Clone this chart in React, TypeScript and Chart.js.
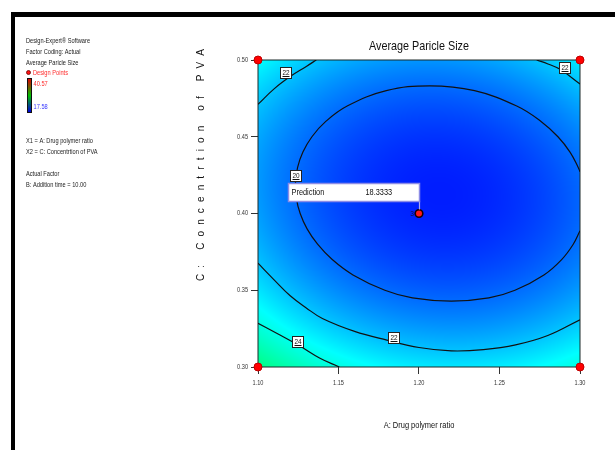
import React, { useEffect, useRef } from "react";
import { Chart, registerables } from "chart.js";

Chart.register(...registerables);

// ---------------- data ----------------
const X_TICKS = [1.1, 1.15, 1.2, 1.25, 1.3];
const Y_TICKS = [0.3, 0.35, 0.4, 0.45, 0.5];

// contour "20" (open where it meets the right edge)
const CONTOUR_20_X = [1.3, 1.2958, 1.2886, 1.2776, 1.2596, 1.2434, 1.22, 1.1959, 1.1788, 1.159, 1.1461, 1.137, 1.1305, 1.1262, 1.1238, 1.1233, 1.1246, 1.1279, 1.1335, 1.1421, 1.1554, 1.1797, 1.2068, 1.2345, 1.2607, 1.2758, 1.2863, 1.2938, 1.2989, 1.3];
const CONTOUR_20_Y = [0.3888, 0.38, 0.37, 0.36, 0.35, 0.345, 0.3429, 0.345, 0.35, 0.36, 0.37, 0.38, 0.39, 0.4, 0.41, 0.42, 0.43, 0.44, 0.45, 0.46, 0.47, 0.48, 0.4832, 0.48, 0.47, 0.46, 0.45, 0.44, 0.43, 0.4272];

// contour "22" pieces
const CONTOUR_22_TL_X = [1.1, 1.11, 1.12, 1.13, 1.1362];
const CONTOUR_22_TL_Y = [0.4711, 0.4812, 0.4892, 0.4958, 0.5];
const CONTOUR_22_TR_X = [1.2731, 1.2801, 1.2876, 1.3];
const CONTOUR_22_TR_Y = [0.5, 0.4974, 0.4939, 0.4844];
const CONTOUR_22_B_X = [1.1, 1.11, 1.12, 1.13, 1.14, 1.16, 1.18, 1.2, 1.22, 1.24, 1.26, 1.28, 1.3];
const CONTOUR_22_B_Y = [0.3676, 0.3568, 0.3464, 0.3385, 0.3316, 0.3232, 0.3175, 0.3127, 0.3105, 0.3113, 0.3144, 0.3205, 0.3308];

// contour "24"
const CONTOUR_24_X = [1.1, 1.1116, 1.125, 1.1385, 1.1505];
const CONTOUR_24_Y = [0.3285, 0.322, 0.3143, 0.3057, 0.3];

// contour labels
const LABEL_X = [1.1174, 1.2907, 1.1236, 1.1845, 1.1247];
const LABEL_Y = [0.4913, 0.495, 0.4244, 0.3191, 0.3165];
const LABEL_TEXT = ["22", "22", "20", "22", "24"];

// design points
const DESIGN_X = [1.1, 1.3, 1.1, 1.3];
const DESIGN_Y = [0.5, 0.5, 0.3, 0.3];
const CENTER_X = [1.2];
const CENTER_Y = [0.4];
const CENTER_REPS = ["3"];

const PREDICTION_LABEL = "Prediction";
const PREDICTION_VALUE = "18.3333";

// fitted quadratic model, coded units: b0, A, C, A^2, C^2, AC
const MODEL_COEFS = [18.33, -0.64, -0.985, 2.2, 3.6, 0.409];
const RESPONSE_RANGE = [17.58, 40.57];

const LEGEND_HEAD = ["Design-Expert® Software", "Factor Coding: Actual", "Average Paricle Size"];
const LEGEND_FACTORS = ["X1 = A: Drug polymer ratio", "X2 = C: Concentrtion of PVA"];
const LEGEND_ACTUAL = ["Actual Factor", "B: Addition time = 10.00"];

const TITLE = "Average Paricle Size";
const X_TITLE = "A: Drug polymer ratio";
const Y_TITLE = "C: Concentrtion of PVA";

// ---------------- styles ----------------
const REGULAR = "'Liberation Sans', Arial, sans-serif";

const STOPS: [number, number, number, number][] = [
  [0, 0, 0, 255],
  [0.25, 0, 255, 255],
  [0.5, 0, 255, 0],
  [0.75, 255, 255, 0],
  [1, 255, 0, 0],
];
function colorAt(t: number): [number, number, number] {
  t = Math.max(0, Math.min(1, t));
  for (let i = 1; i < STOPS.length; i++) {
    if (t <= STOPS[i][0]) {
      const a = STOPS[i - 1], b = STOPS[i];
      const f = (t - a[0]) / (b[0] - a[0]);
      return [a[1] + (b[1] - a[1]) * f, a[2] + (b[2] - a[2]) * f, a[3] + (b[3] - a[3]) * f];
    }
  }
  return [255, 0, 0];
}

// narrow text (Arial-metric font squeezed horizontally, like Arial Narrow)
function nText(ctx: CanvasRenderingContext2D, text: string, x: number, y: number, size: number, color: string, align: CanvasTextAlign = "left", sx = 0.82) {
  ctx.save();
  ctx.font = `${size}px ${REGULAR}`;
  ctx.fillStyle = color;
  ctx.textAlign = align;
  ctx.textBaseline = "middle";
  ctx.translate(x, y);
  ctx.scale(sx, 1);
  ctx.fillText(text, 0, 0);
  ctx.restore();
}

export default function App() {
  const ref = useRef<HTMLCanvasElement>(null);
  useEffect(() => {
    document.body.style.margin = "0";
    const canvas = ref.current!;
    const xy = (xs: number[], ys: number[]) => xs.map((x, i) => ({ x, y: ys[i] }));
    const contour = (xs: number[], ys: number[]) => ({
      data: xy(xs, ys),
      showLine: true,
      borderColor: "#111",
      borderWidth: 1.2,
      pointRadius: 0,
      pointHoverRadius: 0,
      tension: 0.4,
      fill: false,
    });

    const heatmap = {
      id: "heatmap",
      beforeDatasetsDraw(chart: any) {
        const { ctx, chartArea: ca, scales } = chart;
        const w = Math.round(ca.right - ca.left);
        const h = Math.round(ca.bottom - ca.top);
        const off = document.createElement("canvas");
        off.width = w;
        off.height = h;
        const octx = off.getContext("2d")!;
        const img = octx.createImageData(w, h);
        const xc = (X_TICKS[0] + X_TICKS[X_TICKS.length - 1]) / 2;
        const xr = (X_TICKS[X_TICKS.length - 1] - X_TICKS[0]) / 2;
        const yc = (Y_TICKS[0] + Y_TICKS[Y_TICKS.length - 1]) / 2;
        const yr = (Y_TICKS[Y_TICKS.length - 1] - Y_TICKS[0]) / 2;
        const [b0, b1, b2, b11, b22, b12] = MODEL_COEFS;
        for (let j = 0; j < h; j++) {
          const Y = scales.y.getValueForPixel(ca.top + j + 0.5);
          const x2 = (Y - yc) / yr;
          for (let i = 0; i < w; i++) {
            const X = scales.x.getValueForPixel(ca.left + i + 0.5);
            const x1 = (X - xc) / xr;
            const f = b0 + b1 * x1 + b2 * x2 + b11 * x1 * x1 + b22 * x2 * x2 + b12 * x1 * x2;
            const t = (f - RESPONSE_RANGE[0]) / (RESPONSE_RANGE[1] - RESPONSE_RANGE[0]);
            const c = colorAt(t);
            const k = (j * w + i) * 4;
            img.data[k] = c[0];
            img.data[k + 1] = c[1];
            img.data[k + 2] = c[2];
            img.data[k + 3] = 255;
          }
        }
        octx.putImageData(img, 0, 0);
        ctx.save();
        ctx.drawImage(off, ca.left, ca.top);
        ctx.strokeStyle = "#1c2b2b";
        ctx.lineWidth = 1;
        ctx.strokeRect(ca.left, ca.top, ca.right - ca.left, ca.bottom - ca.top);
        ctx.restore();
      },
    };

    const overlay = {
      id: "overlay",
      beforeDraw(chart: any) {
        const ctx = chart.ctx;
        ctx.save();
        ctx.fillStyle = "#fff";
        ctx.fillRect(0, 0, chart.width, chart.height);
        ctx.fillStyle = "#000";
        ctx.fillRect(11, 12, chart.width - 11, 5);
        ctx.fillRect(11, 12, 4, chart.height - 12);
        ctx.restore();
      },
      afterDatasetsDraw(chart: any) {
        const { ctx, scales } = chart;
        ctx.save();
        // contour labels
        LABEL_TEXT.forEach((t, i) => {
          const px = Math.round(scales.x.getPixelForValue(LABEL_X[i]));
          const py = Math.round(scales.y.getPixelForValue(LABEL_Y[i]));
          ctx.fillStyle = "#fff";
          ctx.fillRect(px - 5.5, py - 5.5, 11, 11);
          ctx.strokeStyle = "#222";
          ctx.lineWidth = 1;
          ctx.strokeRect(px - 5.5, py - 5.5, 11, 11);
          nText(ctx, t, px, py, 8, "#111", "center", 0.8);
          ctx.strokeStyle = "#111";
          ctx.beginPath();
          ctx.moveTo(px - 3.5, py + 3.5);
          ctx.lineTo(px + 3.5, py + 3.5);
          ctx.stroke();
        });
        // prediction box
        const px = scales.x.getPixelForValue(CENTER_X[0]);
        const py = scales.y.getPixelForValue(CENTER_Y[0]);
        const bw = 131, bh = 18;
        const bx = Math.round(px) - bw + 0.5, by = Math.round(py) - 12 - bh + 0.5;
        ctx.strokeStyle = "#a8a8f0";
        ctx.lineWidth = 1.2;
        ctx.beginPath();
        ctx.moveTo(Math.round(px) + 0.5, by + bh);
        ctx.lineTo(Math.round(px) + 0.5, py - 4);
        ctx.stroke();
        ctx.fillStyle = "#fff";
        ctx.fillRect(bx, by, bw, bh);
        ctx.strokeStyle = "#8c8ce6";
        ctx.lineWidth = 1.5;
        ctx.strokeRect(bx, by, bw, bh);
        nText(ctx, PREDICTION_LABEL, bx + 3, by + bh / 2 + 0.5, 9, "#111");
        nText(ctx, PREDICTION_VALUE, bx + 77, by + bh / 2 + 0.5, 9, "#111");
        // replicate count
        nText(ctx, CENTER_REPS[0], px - 5, py, 8, "#101040", "right");
        ctx.restore();
      },
      afterDraw(chart: any) {
        const { ctx, chartArea: ca, scales } = chart;
        ctx.save();
        const cx = (ca.left + ca.right) / 2;
        // tick labels
        X_TICKS.forEach((v) => nText(ctx, v.toFixed(2), scales.x.getPixelForValue(v), 383, 7, "#333", "center", 0.8));
        Y_TICKS.forEach((v) => nText(ctx, v.toFixed(2), 248, scales.y.getPixelForValue(v), 7, "#333", "right", 0.8));
        // titles
        nText(ctx, TITLE, cx, 46, 13.5, "#111", "center", 0.8);
        nText(ctx, X_TITLE, cx, 426, 9, "#111", "center", 0.83);
        // y title with letter spacing
        ctx.font = `10px ${REGULAR}`;
        ctx.fillStyle = "#111";
        ctx.textBaseline = "middle";
        const chars = Array.from(Y_TITLE);
        const widths = chars.map((c) => ctx.measureText(c).width);
        const total = widths.reduce((a, b) => a + b, 0);
        const span = 232;
        const gap = (span - total) / (chars.length - 1);
        ctx.save();
        ctx.translate(201, 165);
        ctx.rotate(-Math.PI / 2);
        ctx.textAlign = "left";
        let x = -span / 2;
        chars.forEach((c, i) => {
          ctx.fillText(c, x, 0);
          x += widths[i] + gap;
        });
        ctx.restore();
        // legend block
        LEGEND_HEAD.forEach((t, i) => nText(ctx, t, 26, 41 + i * 11, 7, "#222", "left", 0.81));
        ctx.beginPath();
        ctx.arc(28.5, 72.5, 2, 0, Math.PI * 2);
        ctx.fillStyle = "#ff1010";
        ctx.fill();
        ctx.strokeStyle = "#600";
        ctx.lineWidth = 0.8;
        ctx.stroke();
        nText(ctx, "Design Points", 33, 73.5, 7, "#ff2a2a", "left", 0.81);
        const g = ctx.createLinearGradient(0, 79, 0, 112);
        g.addColorStop(0, "#e00000");
        g.addColorStop(0.5, "#00c000");
        g.addColorStop(1, "#0000e0");
        ctx.fillStyle = g;
        ctx.fillRect(27.5, 78.5, 4, 34);
        ctx.strokeStyle = "#111";
        ctx.lineWidth = 1;
        ctx.strokeRect(27.5, 78.5, 4, 34);
        nText(ctx, RESPONSE_RANGE[1].toFixed(2), 33.5, 84.5, 7, "#ff2a2a", "left", 0.81);
        nText(ctx, RESPONSE_RANGE[0].toFixed(2), 33.5, 107.5, 7, "#3a3aff", "left", 0.81);
        LEGEND_FACTORS.forEach((t, i) => nText(ctx, t, 26, 141 + i * 11, 7, "#222", "left", 0.81));
        LEGEND_ACTUAL.forEach((t, i) => nText(ctx, t, 26, 174 + i * 11, 7, "#222", "left", 0.81));
        ctx.restore();
      },
    };

    const chart = new Chart(canvas, {
      type: "scatter",
      data: {
        datasets: [
          {
            data: xy(CENTER_X, CENTER_Y),
            pointRadius: 3.8,
            backgroundColor: "#ff1a1a",
            borderColor: "#1a0000",
            borderWidth: 1.6,
            clip: false,
          } as any,
          {
            data: xy(DESIGN_X, DESIGN_Y),
            pointRadius: 4,
            backgroundColor: "#ff0000",
            borderColor: "#c00000",
            borderWidth: 1,
            clip: false,
          },
          contour(CONTOUR_20_X, CONTOUR_20_Y),
          contour(CONTOUR_22_TL_X, CONTOUR_22_TL_Y),
          contour(CONTOUR_22_TR_X, CONTOUR_22_TR_Y),
          contour(CONTOUR_22_B_X, CONTOUR_22_B_Y),
          contour(CONTOUR_24_X, CONTOUR_24_Y),
        ],
      },
      options: {
        responsive: false,
        devicePixelRatio: 1,
        animation: false,
        events: [],
        layout: { padding: { left: 228, top: 60, right: 35, bottom: 63 } },
        plugins: { legend: { display: false }, tooltip: { enabled: false }, title: { display: false } },
        scales: {
          x: {
            type: "linear",
            min: X_TICKS[0],
            max: X_TICKS[X_TICKS.length - 1],
            afterBuildTicks: (s: any) => {
              s.ticks = X_TICKS.map((v) => ({ value: v }));
            },
            afterFit: (s: any) => {
              s.height = 20;
            },
            ticks: { display: false },
            grid: { display: true, drawOnChartArea: false, drawTicks: true, tickLength: 7, tickColor: "#333", tickWidth: 1 },
            border: { display: false },
          },
          y: {
            type: "linear",
            min: Y_TICKS[0],
            max: Y_TICKS[Y_TICKS.length - 1],
            afterBuildTicks: (s: any) => {
              s.ticks = Y_TICKS.map((v) => ({ value: v }));
            },
            afterFit: (s: any) => {
              s.width = 30;
            },
            ticks: { display: false },
            grid: { display: true, drawOnChartArea: false, drawTicks: true, tickLength: 7, tickColor: "#333", tickWidth: 1 },
            border: { display: false },
          },
        },
      },
      plugins: [heatmap, overlay],
    } as any);
    return () => chart.destroy();
  }, []);
  return (
    <div style={{ width: 615, height: 450, overflow: "hidden" }}>
      <canvas ref={ref} width={615} height={450} style={{ display: "block" }} />
    </div>
  );
}
